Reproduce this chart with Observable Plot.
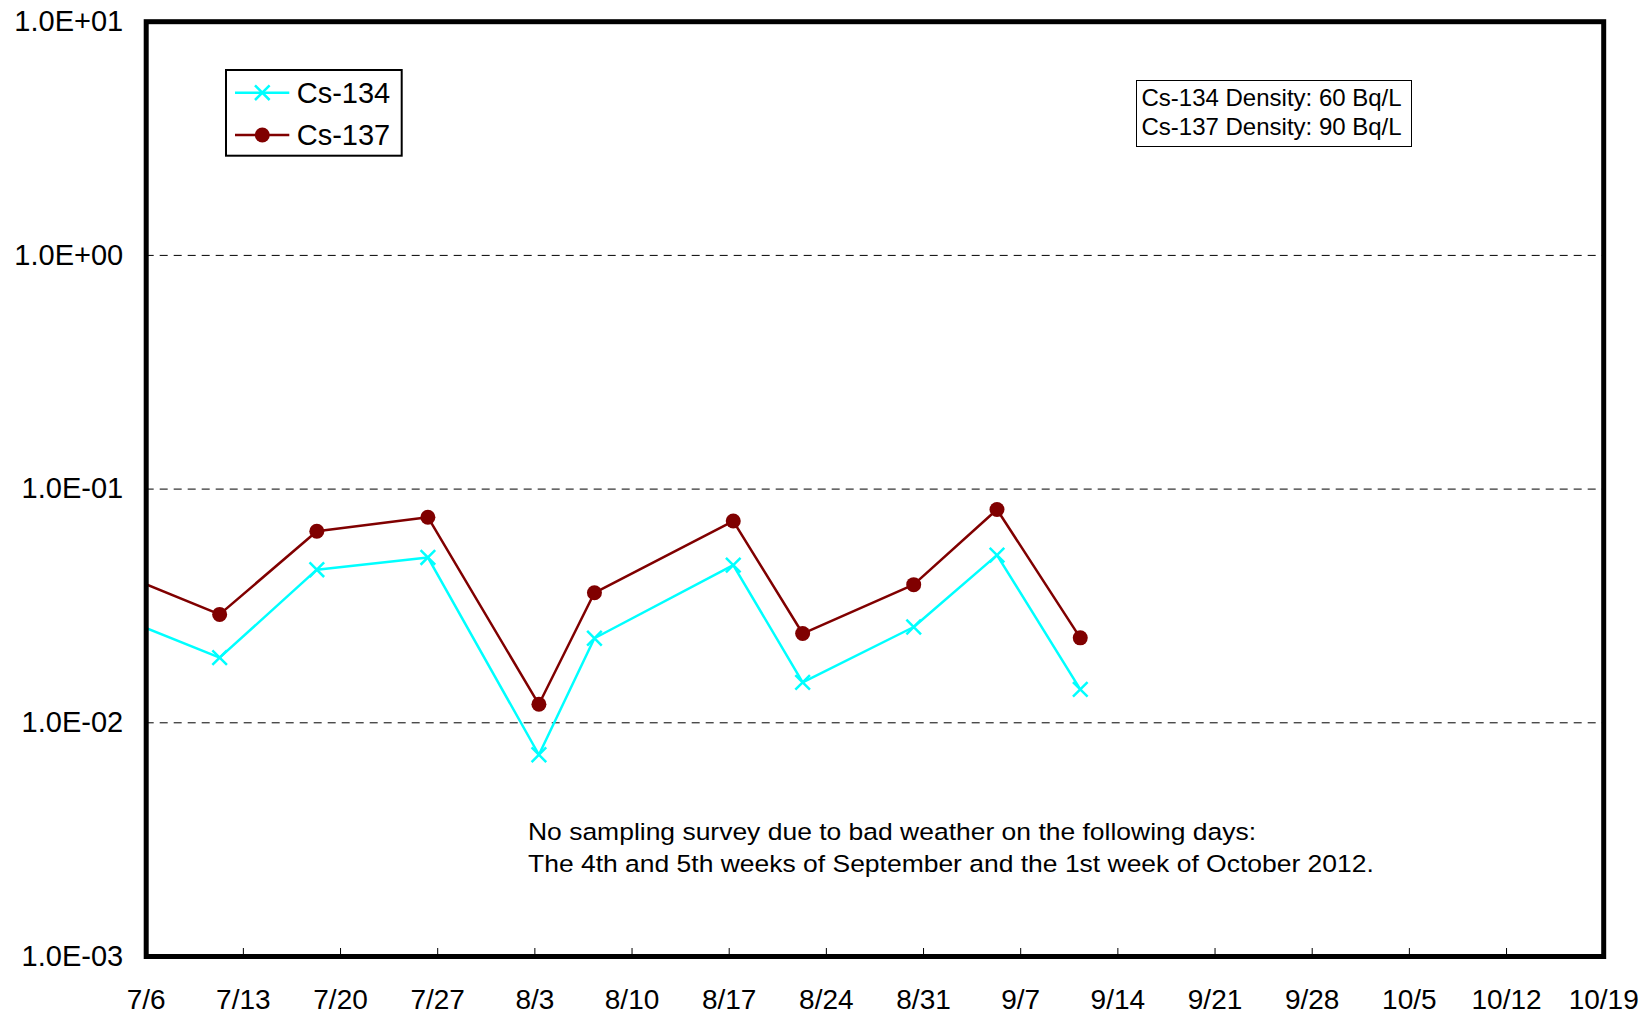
<!DOCTYPE html>
<html>
<head>
<meta charset="utf-8">
<script src="https://cdn.jsdelivr.net/npm/d3@7"></script>
<script src="https://cdn.jsdelivr.net/npm/@observablehq/plot@0.6"></script>
<style>
  html, body { margin: 0; padding: 0; background: #fff; }
  #wrap { position: relative; width: 1650px; height: 1017px; font-family: "Liberation Sans", Arial, sans-serif; color: #000; }
  #wrap > svg { position: absolute; left: 0; top: 0; }
  .overlay { position: absolute; }
  #density { left: 1136px; top: 80px; width: 274px; height: 65px; border: 1.6px solid #000; background: #fff; }
  #density div { position: absolute; left: 4.5px; font-size: 24px; line-height: 28px; white-space: nowrap; }
  #note { left: 528px; top: 816px; font-size: 24.5px; line-height: 31.6px; white-space: nowrap; transform: scaleX(1.08); transform-origin: left top; }
</style>
</head>
<body>
<div id="wrap"></div>
<script>
// ---- data ----
const sampleDates = ["2012-07-04T07:00", "2012-07-11T07:00", "2012-07-18T07:00", "2012-07-26T07:00",
  "2012-08-03T07:00", "2012-08-07T07:00", "2012-08-17T07:00", "2012-08-22T07:00",
  "2012-08-30T07:00", "2012-09-05T07:00", "2012-09-11T07:00"];
const cs134 = [0.0279, 0.0190, 0.0452, 0.0510, 0.0073, 0.0230, 0.0473, 0.0149, 0.0257, 0.0522, 0.0139];
const cs137 = [0.0430, 0.0291, 0.0660, 0.0758, 0.0120, 0.0360, 0.0730, 0.0241, 0.0390, 0.0818, 0.0231];
const seriesNames = ["Cs-134", "Cs-137"];
const seriesColors = ["#00ffff", "#800000"];

const xTickDates = ["2012-07-06T00:00", "2012-07-13T00:00", "2012-07-20T00:00", "2012-07-27T00:00",
  "2012-08-03T00:00", "2012-08-10T00:00", "2012-08-17T00:00", "2012-08-24T00:00", "2012-08-31T00:00",
  "2012-09-07T00:00", "2012-09-14T00:00", "2012-09-21T00:00", "2012-09-28T00:00", "2012-10-05T00:00",
  "2012-10-12T00:00", "2012-10-19T00:00"];
const xTickLabels = ["7/6", "7/13", "7/20", "7/27", "8/3", "8/10", "8/17", "8/24", "8/31",
  "9/7", "9/14", "9/21", "9/28", "10/5", "10/12", "10/19"];
const yTicks = [0.001, 0.01, 0.1, 1, 10];
const yTickLabels = ["1.0E-03", "1.0E-02", "1.0E-01", "1.0E+00", "1.0E+01"];
const gridValues = [0.01, 0.1, 1];

const densityLines = ["Cs-134 Density: 60 Bq/L", "Cs-137 Density: 90 Bq/L"];
const noteLines = ["No sampling survey due to bad weather on the following days:",
  "The 4th and 5th weeks of September and the 1st week of October 2012."];

// ---- build ----
const parseT = d3.timeParse("%Y-%m-%dT%H:%M");
const xTicks = xTickDates.map(parseT);
const xLabelOf = new Map(xTicks.map((d, i) => [+d, xTickLabels[i]]));
const yLabelOf = new Map(yTicks.map((d, i) => [d, yTickLabels[i]]));
const rows134 = sampleDates.map((d, i) => ({date: parseT(d), value: cs134[i]}));
const rows137 = sampleDates.map((d, i) => ({date: parseT(d), value: cs137[i]}));

const font = "'Liberation Sans', Arial, sans-serif";

const chart = Plot.plot({
  width: 1650,
  height: 1017,
  marginLeft: 145.7,
  marginRight: 1650 - 1603.2,
  marginTop: 21.2,
  marginBottom: 1017 - 956,
  style: {fontFamily: font, fontSize: "28px", background: "white", color: "black"},
  x: {domain: [xTicks[0], xTicks[xTicks.length - 1]]},
  y: {type: "log", domain: [yTicks[0], yTicks[yTicks.length - 1]]},
  marks: [
    Plot.ruleY(gridValues, {stroke: "black", strokeWidth: 1, strokeDasharray: "8,6"}),
    Plot.axisY(yTicks, {tickSize: 0, tickPadding: 23, tickFormat: d => yLabelOf.get(d), label: null, fontSize: 29}),
    Plot.axisX(xTicks, {tickSize: 0, tickPadding: 33, tickFormat: d => xLabelOf.get(+d), label: null, fontSize: 28}),
    Plot.axisX(xTicks.slice(1, -1), {tickSize: -8, tickFormat: () => "", label: null, stroke: "black"}),
    Plot.line(rows134, {x: "date", y: "value", stroke: seriesColors[0], strokeWidth: 2.5, clip: true}),
    Plot.line(rows137, {x: "date", y: "value", stroke: seriesColors[1], strokeWidth: 2.5, clip: true}),
    Plot.dot(rows134, {x: "date", y: "value", symbol: "times", r: 6.7, stroke: seriesColors[0], strokeWidth: 2.5, clip: true}),
    Plot.dot(rows137, {x: "date", y: "value", symbol: "circle", r: 7.5, fill: seriesColors[1], stroke: "none", clip: true}),
    Plot.frame({stroke: "black", strokeWidth: 5})
  ]
});

const wrap = document.getElementById("wrap");
wrap.appendChild(chart);

// ---- legend (overlay) ----
const ns = "http://www.w3.org/2000/svg";
const leg = document.createElementNS(ns, "svg");
leg.setAttribute("width", 1650);
leg.setAttribute("height", 1017);
leg.setAttribute("class", "overlay");
leg.style.left = "0px"; leg.style.top = "0px"; leg.style.pointerEvents = "none";
const lx = 226, ly = 70, lw = 175.7, lh = 85.7, rowY = [92.7, 135];
let html = `<rect x="${lx}" y="${ly}" width="${lw}" height="${lh}" fill="white" stroke="black" stroke-width="2"/>`;
seriesNames.forEach((name, i) => {
  const y = rowY[i], c = seriesColors[i], mx = 262.3;
  html += `<line x1="235" x2="289.3" y1="${y}" y2="${y}" stroke="${c}" stroke-width="2.5"/>`;
  if (i === 0) {
    const h = 7.3;
    html += `<path d="M${mx - h},${y - h}L${mx + h},${y + h}M${mx - h},${y + h}L${mx + h},${y - h}" stroke="${c}" stroke-width="2.5" fill="none"/>`;
  } else {
    html += `<circle cx="${mx}" cy="${y}" r="7.5" fill="${c}"/>`;
  }
  html += `<text x="296.7" y="${y}" dy="0.36em" font-family="${font.replace(/'/g, "")}" font-size="29">${name}</text>`;
});
leg.innerHTML = html;
wrap.appendChild(leg);

// ---- density box ----
const dens = document.createElement("div");
dens.id = "density"; dens.className = "overlay";
densityLines.forEach((t, i) => {
  const d = document.createElement("div");
  d.textContent = t;
  d.style.top = (3 + i * 28.5) + "px";
  dens.appendChild(d);
});
wrap.appendChild(dens);

// ---- note ----
const note = document.createElement("div");
note.id = "note"; note.className = "overlay";
note.innerHTML = noteLines.map(t => `<div>${t}</div>`).join("");
wrap.appendChild(note);
</script>
</body>
</html>
